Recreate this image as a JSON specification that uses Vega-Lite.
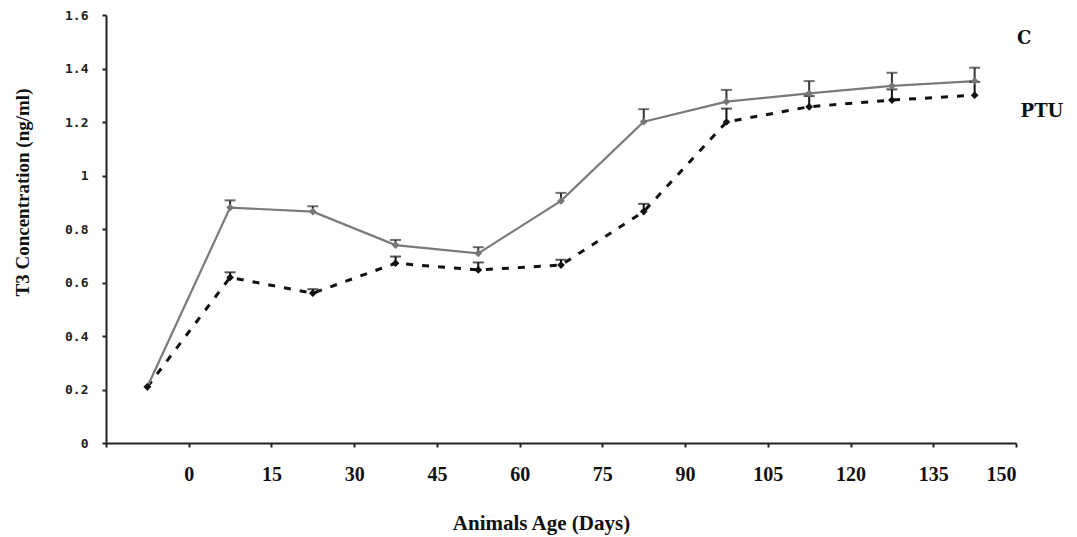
{
  "$schema": "https://vega.github.io/schema/vega-lite/v6.json",
  "width": 910,
  "height": 428,
  "autosize": {"type": "none"},
  "padding": {"left": 106, "top": 15, "right": 61, "bottom": 94},
  "background": "white",
  "config": {
    "view": {"stroke": null},
    "axis": {"grid": false, "domainColor": "#222", "domainWidth": 2, "tickColor": "#222", "tickWidth": 2}
  },
  "datasets": {
    "series": [
      {"day": -7.5, "group": "C", "value": 0.21, "upper": 0.21},
      {"day": 7.5, "group": "C", "value": 0.88, "upper": 0.907},
      {"day": 22.5, "group": "C", "value": 0.865, "upper": 0.885},
      {"day": 37.5, "group": "C", "value": 0.74, "upper": 0.759},
      {"day": 52.5, "group": "C", "value": 0.709, "upper": 0.732},
      {"day": 67.5, "group": "C", "value": 0.905, "upper": 0.935},
      {"day": 82.5, "group": "C", "value": 1.201, "upper": 1.248},
      {"day": 97.5, "group": "C", "value": 1.276, "upper": 1.32},
      {"day": 112.5, "group": "C", "value": 1.307, "upper": 1.353},
      {"day": 127.5, "group": "C", "value": 1.335, "upper": 1.384},
      {"day": 142.5, "group": "C", "value": 1.353, "upper": 1.403},
      {"day": -7.5, "group": "PTU", "value": 0.21, "upper": 0.21},
      {"day": 7.5, "group": "PTU", "value": 0.619, "upper": 0.638},
      {"day": 22.5, "group": "PTU", "value": 0.56, "upper": 0.575},
      {"day": 37.5, "group": "PTU", "value": 0.672, "upper": 0.697},
      {"day": 52.5, "group": "PTU", "value": 0.647, "upper": 0.675},
      {"day": 67.5, "group": "PTU", "value": 0.665, "upper": 0.685},
      {"day": 82.5, "group": "PTU", "value": 0.865, "upper": 0.894},
      {"day": 97.5, "group": "PTU", "value": 1.2, "upper": 1.25},
      {"day": 112.5, "group": "PTU", "value": 1.257, "upper": 1.297},
      {"day": 127.5, "group": "PTU", "value": 1.282, "upper": 1.322},
      {"day": 142.5, "group": "PTU", "value": 1.3, "upper": 1.35}
    ],
    "labels": [
      {"day": 151.5, "value": 1.51, "text": "C"},
      {"day": 154.7, "value": 1.237, "text": "PTU"}
    ]
  },
  "layer": [
    {
      "data": {"name": "series"},
      "transform": [{"filter": "datum.group === 'PTU'"}],
      "mark": {"type": "line", "color": "#111", "strokeWidth": 3, "strokeDash": [7, 9]},
      "encoding": {
        "x": {"field": "day", "type": "quantitative", "scale": {"domain": [-15, 150], "nice": false, "zero": false},
          "axis": {"values": [-15, 0, 15, 30, 45, 60, 75, 90, 105, 120, 135, 150], "labelExpr": "datum.value < 0 ? '' : datum.label",
            "title": "Animals Age (Days)", "labelFont": "Liberation Serif", "labelFontWeight": "bold", "labelFontSize": 20, "labelColor": "#111",
            "labelPadding": 17, "tickSize": 4, "titleFont": "Liberation Serif", "titleFontWeight": "bold", "titleFontSize": 21, "titleColor": "#111",
            "titleX": 435, "titleY": 80, "titleBaseline": "middle", "titleAlign": "center"}},
        "y": {"field": "value", "type": "quantitative", "scale": {"domain": [0, 1.6], "nice": false},
          "axis": {"values": [0, 0.2, 0.4, 0.6, 0.8, 1, 1.2, 1.4, 1.6], "format": "~g",
            "title": "T3 Concentration (ng/ml)", "labelFont": "DejaVu Sans Mono", "labelFontWeight": "bold", "labelFontSize": 13, "labelColor": "#222",
            "labelPadding": 14, "tickSize": 4, "titleFont": "Liberation Serif", "titleFontWeight": "bold", "titleFontSize": 19, "titleColor": "#111",
            "titleX": -84, "titleY": 177, "titleBaseline": "middle", "titleAlign": "center"}}
      }
    },
    {
      "data": {"name": "series"},
      "transform": [{"filter": "datum.group === 'C'"}],
      "mark": {"type": "line", "color": "#7a7a7a", "strokeWidth": 2.2},
      "encoding": {
        "x": {"field": "day", "type": "quantitative"},
        "y": {"field": "value", "type": "quantitative"}
      }
    },
    {
      "data": {"name": "series"},
      "transform": [{"filter": "datum.upper > datum.value"}],
      "mark": {"type": "rule", "strokeWidth": 2},
      "encoding": {
        "x": {"field": "day", "type": "quantitative"},
        "y": {"field": "value", "type": "quantitative"},
        "y2": {"field": "upper"},
        "color": {"field": "group", "type": "nominal", "scale": {"domain": ["C", "PTU"], "range": ["#333", "#111"]}, "legend": null}
      }
    },
    {
      "data": {"name": "series"},
      "transform": [{"filter": "datum.upper > datum.value"}],
      "mark": {"type": "tick", "orient": "horizontal", "size": 11, "thickness": 2},
      "encoding": {
        "x": {"field": "day", "type": "quantitative"},
        "y": {"field": "upper", "type": "quantitative"},
        "color": {"field": "group", "type": "nominal", "scale": {"domain": ["C", "PTU"], "range": ["#333", "#111"]}, "legend": null}
      }
    },
    {
      "data": {"name": "series"},
      "mark": {"type": "point", "shape": "diamond", "filled": true, "size": 60, "opacity": 1},
      "encoding": {
        "x": {"field": "day", "type": "quantitative"},
        "y": {"field": "value", "type": "quantitative"},
        "color": {"field": "group", "type": "nominal", "scale": {"domain": ["C", "PTU"], "range": ["#777", "#111"]}, "legend": null}
      }
    },
    {
      "data": {"name": "labels"},
      "mark": {"type": "text", "font": "DejaVu Serif", "fontWeight": "bold", "fontSize": 18, "color": "#111", "align": "center", "baseline": "middle"},
      "encoding": {
        "x": {"field": "day", "type": "quantitative"},
        "y": {"field": "value", "type": "quantitative"},
        "text": {"field": "text"}
      }
    }
  ],
  "resolve": {"scale": {"color": "independent"}}
}
